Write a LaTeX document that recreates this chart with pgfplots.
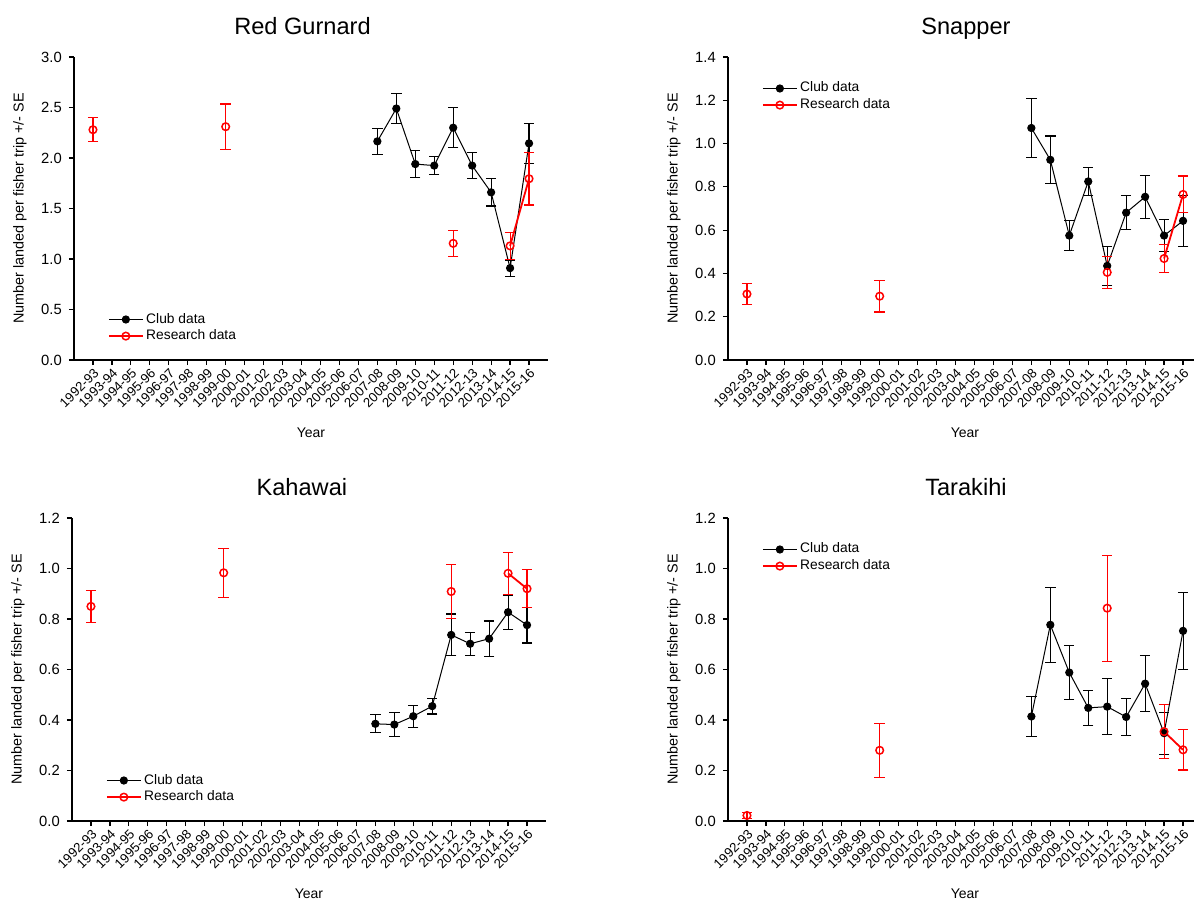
\documentclass[border=0pt]{standalone}
\usepackage{fontspec}
\setmainfont{Liberation Sans}
\usepackage{pgfplots}
\usepackage{pgfplotstable}
\pgfplotsset{compat=1.18}

% club data: season index (0 = 1992-93), mean, SE
\pgfplotstableread{
x y e
15 2.165 0.13
16 2.49 0.15
17 1.94 0.13
18 1.925 0.09
19 2.30 0.20
20 1.925 0.13
21 1.66 0.135
22 0.91 0.08
23 2.145 0.195
}\gurnardclub
\pgfplotstableread{
x y e
0 2.28 0.12
1 nan 0
7 2.31 0.225
8 nan 0
19 1.155 0.13
20 nan 0
22 1.13 0.135
23 1.795 0.26
}\gurnardres
\pgfplotstableread{
x y e
15 1.072 0.137
16 0.925 0.11
17 0.575 0.07
18 0.825 0.064
19 0.435 0.09
20 0.681 0.08
21 0.754 0.10
22 0.575 0.075
23 0.643 0.117
}\snapperclub
\pgfplotstableread{
x y e
0 0.305 0.05
1 nan 0
7 0.295 0.073
8 nan 0
19 0.405 0.074
20 nan 0
22 0.469 0.065
23 0.765 0.085
}\snapperres
\pgfplotstableread{
x y e
15 0.385 0.036
16 0.382 0.047
17 0.415 0.043
18 0.455 0.031
19 0.737 0.083
20 0.702 0.046
21 0.722 0.07
22 0.827 0.067
23 0.776 0.071
}\kahawaiclub
\pgfplotstableread{
x y e
0 0.85 0.064
1 nan 0
7 0.983 0.098
8 nan 0
19 0.909 0.107
20 nan 0
22 0.981 0.083
23 0.92 0.075
}\kahawaires
\pgfplotstableread{
x y e
15 0.414 0.079
16 0.777 0.148
17 0.588 0.106
18 0.448 0.07
19 0.453 0.11
20 0.412 0.072
21 0.544 0.11
22 0.348 0.083
23 0.753 0.153
}\tarakihiclub
\pgfplotstableread{
x y e
0 0.022 0.013
1 nan 0
7 0.28 0.106
8 nan 0
19 0.843 0.21
20 nan 0
22 0.354 0.108
23 0.282 0.08
}\tarakihires

\pgfplotsset{
  panel/.style={
    scale only axis, width=237pt, height=151.5pt,
    xmin=-1, xmax=24, ymin=0,
    axis x line*=bottom, axis y line*=left,
    axis line style={line width=0.6pt, -},
    tick align=outside, major tick length=2.6pt,
    tick style={line width=0.6pt, black},
    xtick={0,...,23},
    xticklabels={1992-93,1993-94,1994-95,1995-96,1996-97,1997-98,1998-99,1999-00,2000-01,2001-02,2002-03,2003-04,2004-05,2005-06,2006-07,2007-08,2008-09,2009-10,2010-11,2011-12,2012-13,2013-14,2014-15,2015-16},
    xticklabel style={rotate=45, anchor=north east, font=\fontsize{6.6}{7}\selectfont, inner sep=0.6pt},
    yticklabel style={font=\fontsize{7.4}{8}\selectfont},
    /pgf/number format/.cd, fixed, fixed zerofill, precision=1, assume math mode=true,
    /pgfplots/.cd,
    xlabel={Year},
    xlabel style={at={(axis description cs:0.5,-0.24)}, anchor=center, font=\fontsize{7}{8}\selectfont},
    ylabel={Number landed per fisher trip +/- SE},
    ylabel style={at={(axis description cs:-0.114,0.5)}, anchor=center, font=\fontsize{7.2}{8}\selectfont},
    title style={font=\fontsize{11.8}{13}\selectfont, anchor=base, yshift=0pt},
    unbounded coords=jump,
    filter discard warning=false,
    legend style={draw=none, fill=none, font=\fontsize{6.9}{8}\selectfont,
      nodes={inner sep=1.2pt}, row sep=-0.6pt},
    legend cell align=left,
  },
  club/.style={black, line width=0.5pt, mark=*, mark size=1.8pt,
    mark options={solid, fill=black},
    error bars/.cd, y dir=both, y explicit,
    error bar style={line width=0.55pt, black},
    error mark options={rotate=90, line width=0.55pt, mark size=2.6pt, black}},
  res/.style={red, line width=0.9pt, mark=o, mark size=1.9pt,
    mark options={solid, fill=white, line width=0.75pt},
    error bars/.cd, y dir=both, y explicit,
    error bar style={line width=0.55pt, red},
    error mark options={rotate=90, line width=0.55pt, mark size=2.6pt, red}},
}

\begin{document}
\begin{tikzpicture}

% Red Gurnard
\begin{axis}[panel, at={(37pt,-180pt)}, anchor=south west,
  ymax=3.0, ytick={0,0.5,...,3.0},
  title={Red Gurnard}, title style={at={(axis description cs:0.482,1.034)}},
  legend style={at={(axis description cs:0.058,0.035)}, anchor=south west}]
\addplot+[club] table[x=x, y=y, y error=e] {\gurnardclub};
\addlegendentry{Club data}
\addplot+[res] table[x=x, y=y, y error=e] {\gurnardres};
\addlegendentry{Research data}
\end{axis}

% Snapper
\begin{axis}[panel, at={(364pt,-180pt)}, anchor=south west,
  ymax=1.4, ytick={0,0.2,...,1.4},
  title={Snapper}, title style={at={(axis description cs:0.502,1.034)}},
  legend style={at={(axis description cs:0.058,0.94)}, anchor=north west}]
\addplot+[club] table[x=x, y=y, y error=e] {\snapperclub};
\addlegendentry{Club data}
\addplot+[res] table[x=x, y=y, y error=e] {\snapperres};
\addlegendentry{Research data}
\end{axis}

% Kahawai
\begin{axis}[panel, at={(36pt,-410.5pt)}, anchor=south west,
  ymax=1.2, ytick={0,0.2,...,1.2},
  title={Kahawai}, title style={at={(axis description cs:0.485,1.034)}},
  legend style={at={(axis description cs:0.058,0.035)}, anchor=south west}]
\addplot+[club] table[x=x, y=y, y error=e] {\kahawaiclub};
\addlegendentry{Club data}
\addplot+[res] table[x=x, y=y, y error=e] {\kahawaires};
\addlegendentry{Research data}
\end{axis}

% Tarakihi
\begin{axis}[panel, at={(364pt,-410.5pt)}, anchor=south west,
  ymax=1.2, ytick={0,0.2,...,1.2},
  title={Tarakihi}, title style={at={(axis description cs:0.502,1.034)}},
  legend style={at={(axis description cs:0.058,0.94)}, anchor=north west}]
\addplot+[club] table[x=x, y=y, y error=e] {\tarakihiclub};
\addlegendentry{Club data}
\addplot+[res] table[x=x, y=y, y error=e] {\tarakihires};
\addlegendentry{Research data}
\end{axis}

\pgfresetboundingbox
\useasboundingbox (0,0) rectangle (597pt,-450.5pt);
\end{tikzpicture}
\end{document}
